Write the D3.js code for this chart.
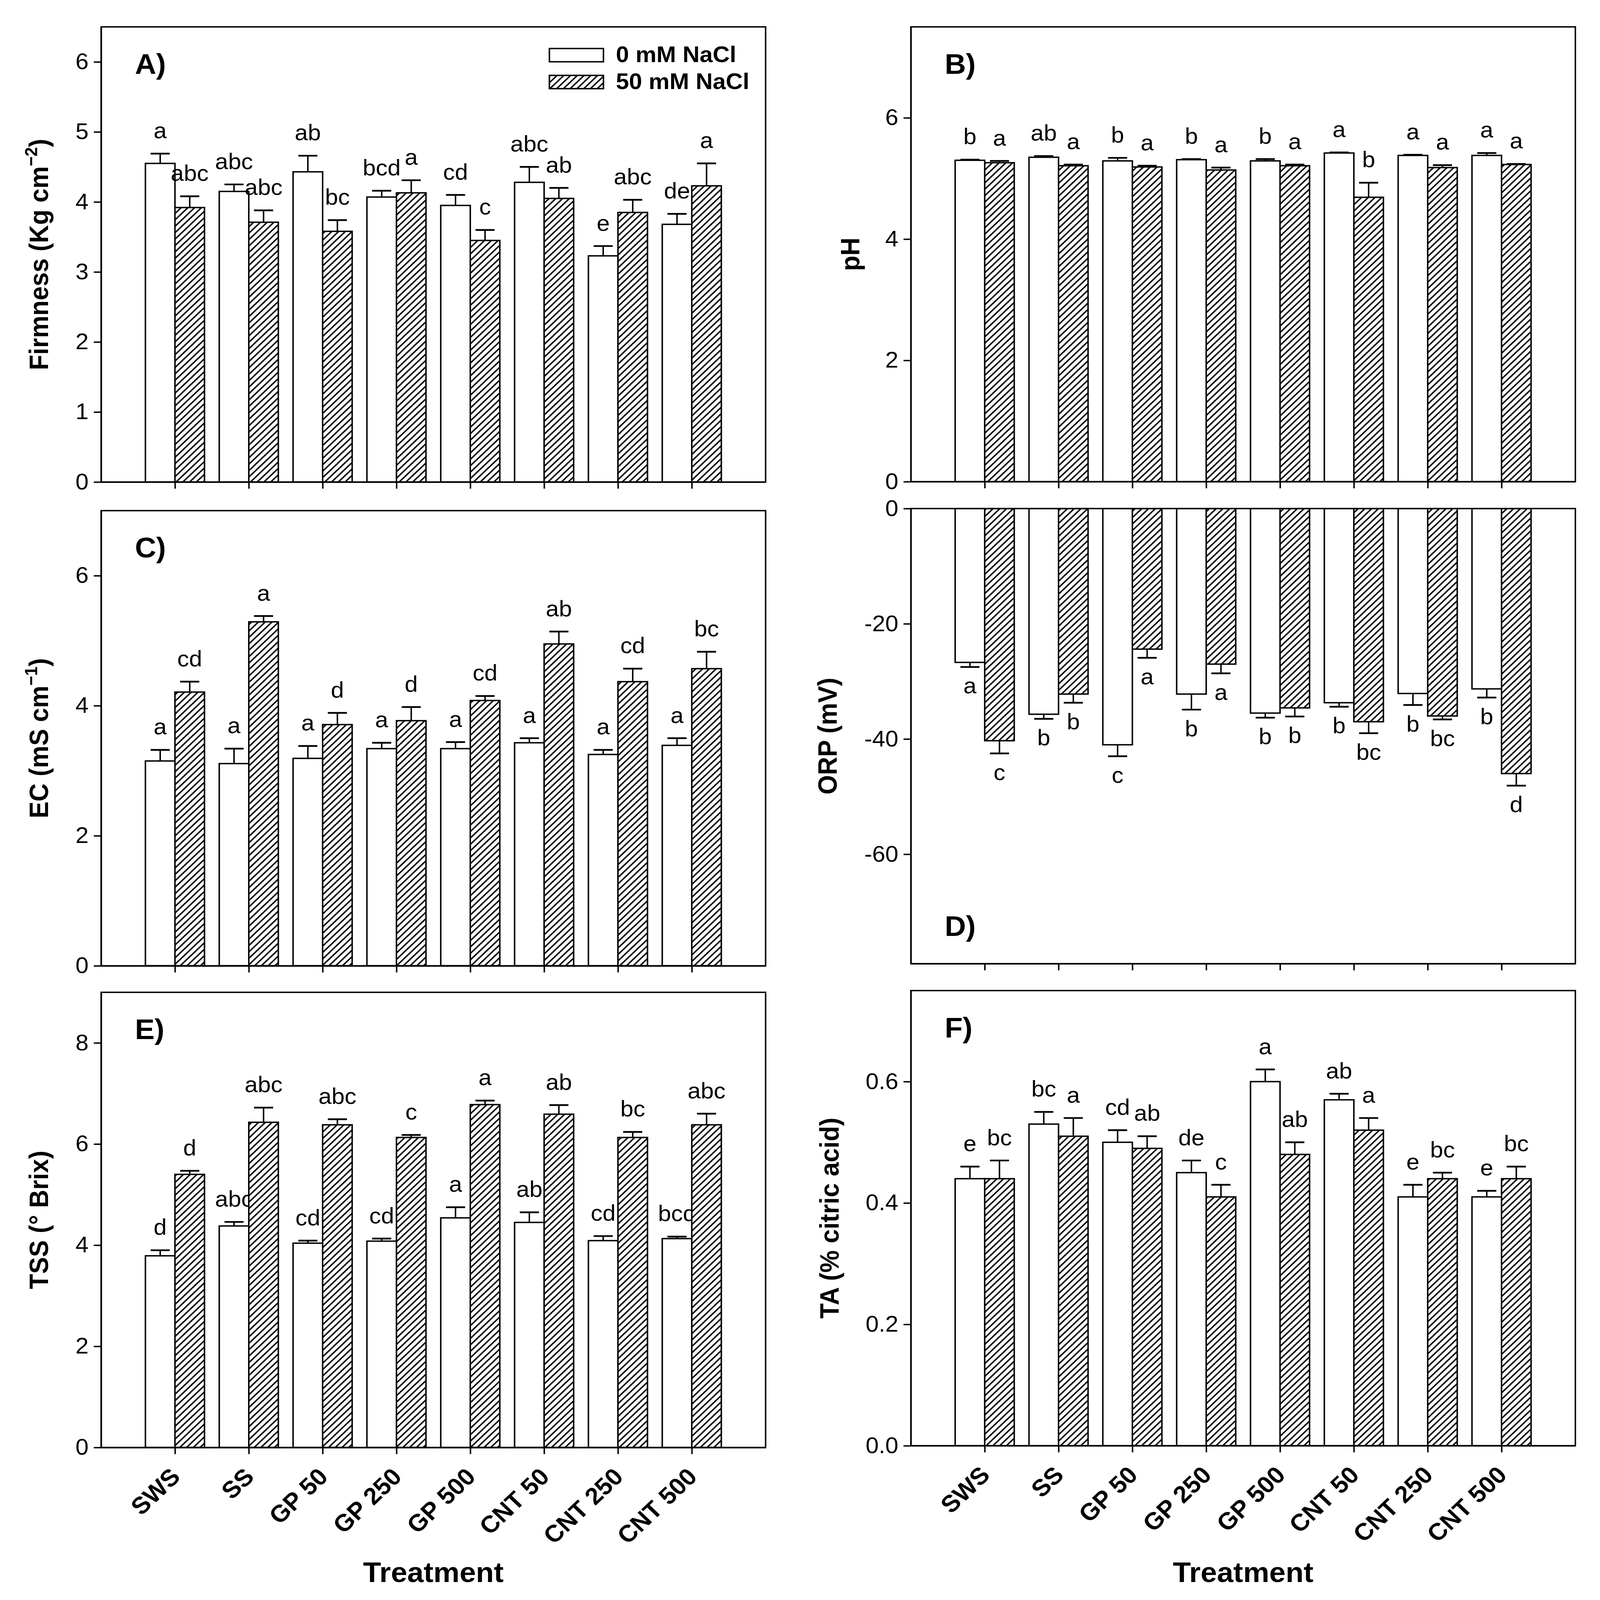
<!DOCTYPE html>
<html>
<head>
<meta charset="utf-8">
<title>Fruit quality</title>
<script src="https://d3js.org/d3.v7.min.js"></script>
<style>
  html, body { margin: 0; padding: 0; background: #fff; overflow: hidden; }
  #chart svg { display: block; width: 100vw; height: 100vh; }
  svg text { font-family: "Liberation Sans", Arial, sans-serif; fill: #000; }
</style>
</head>
<body>
<div id="chart"></div>
<script>
// ---- data ----
var treatments = ["SWS", "SS", "GP 50", "GP 250", "GP 500", "CNT 50", "CNT 250", "CNT 500"];
var seriesNames = ["0 mM NaCl", "50 mM NaCl"];

var firm0 = [4.55, 4.15, 4.43, 4.07, 3.95, 4.28, 3.23, 3.68];
var firm0Err = [0.14, 0.10, 0.23, 0.09, 0.15, 0.22, 0.14, 0.15];
var firm50 = [3.92, 3.71, 3.58, 4.13, 3.45, 4.05, 3.85, 4.23];
var firm50Err = [0.16, 0.17, 0.16, 0.18, 0.15, 0.15, 0.18, 0.32];
var firm0Let = ["a", "abc", "ab", "bcd", "cd", "abc", "e", "de"];
var firm50Let = ["abc", "abc", "bc", "a", "c", "ab", "abc", "a"];

var ph0 = [5.30, 5.35, 5.29, 5.31, 5.29, 5.42, 5.38, 5.38];
var ph0Err = [0.01, 0.02, 0.05, 0.01, 0.03, 0.01, 0.01, 0.04];
var ph50 = [5.26, 5.21, 5.19, 5.14, 5.21, 4.69, 5.18, 5.23];
var ph50Err = [0.03, 0.02, 0.02, 0.04, 0.02, 0.24, 0.04, 0.01];
var ph0Let = ["b", "ab", "b", "b", "b", "a", "a", "a"];
var ph50Let = ["a", "a", "a", "a", "a", "b", "a", "a"];

var ec0 = [3.15, 3.11, 3.19, 3.34, 3.34, 3.43, 3.25, 3.39];
var ec0Err = [0.17, 0.23, 0.19, 0.09, 0.10, 0.07, 0.07, 0.11];
var ec50 = [4.21, 5.29, 3.71, 3.77, 4.08, 4.95, 4.37, 4.57];
var ec50Err = [0.16, 0.09, 0.18, 0.21, 0.07, 0.19, 0.20, 0.26];
var ec0Let = ["a", "a", "a", "a", "a", "a", "a", "a"];
var ec50Let = ["cd", "a", "d", "d", "cd", "ab", "cd", "bc"];

var orp0 = [-26.7, -35.7, -41.0, -32.2, -35.5, -33.7, -32.1, -31.3];
var orp0Err = [0.8, 0.8, 2.0, 2.7, 0.8, 0.7, 2.0, 1.5];
var orp50 = [-40.3, -32.2, -24.4, -27.0, -34.6, -37.0, -36.0, -46.0];
var orp50Err = [2.2, 1.5, 1.5, 1.6, 1.5, 2.0, 0.6, 2.1];
var orp0Let = ["a", "b", "c", "b", "b", "b", "b", "b"];
var orp50Let = ["c", "b", "a", "a", "b", "bc", "bc", "d"];

var tss0 = [3.79, 4.38, 4.04, 4.08, 4.54, 4.45, 4.09, 4.13];
var tss0Err = [0.11, 0.08, 0.05, 0.05, 0.21, 0.20, 0.09, 0.04];
var tss50 = [5.40, 6.43, 6.38, 6.13, 6.78, 6.59, 6.13, 6.38];
var tss50Err = [0.07, 0.29, 0.11, 0.05, 0.08, 0.18, 0.11, 0.22];
var tss0Let = ["d", "abc", "cd", "cd", "a", "ab", "cd", "bcd"];
var tss50Let = ["d", "abc", "abc", "c", "a", "ab", "bc", "abc"];

var ta0 = [0.44, 0.53, 0.50, 0.45, 0.60, 0.57, 0.41, 0.41];
var ta0Err = [0.02, 0.02, 0.02, 0.02, 0.02, 0.01, 0.02, 0.01];
var ta50 = [0.44, 0.51, 0.49, 0.41, 0.48, 0.52, 0.44, 0.44];
var ta50Err = [0.03, 0.03, 0.02, 0.02, 0.02, 0.02, 0.01, 0.02];
var ta0Let = ["e", "bc", "cd", "de", "a", "ab", "e", "e"];
var ta50Let = ["bc", "a", "ab", "c", "ab", "a", "bc", "bc"];

// ---- layout (in the 4351 x 4584 picture's own units) ----
var W = 4351, H = 4584;
var LX = [275, 2082], RX = [2477, 4284];

var panels = [
  { tag: "A)", x: LX, y: [77, 1381], domain: [0, 6.5], ticks: [0, 1, 2, 3, 4, 5, 6], fmt: d3.format("d"),
    vals: [firm0, firm50], errs: [firm0Err, firm50Err], lets: [firm0Let, firm50Let],
    title: ["Firmness (Kg cm", "\u22122", ")"], titleX: 131, tagPos: "top", legend: true },
  { tag: "B)", x: RX, y: [77, 1380], domain: [0, 7.5], ticks: [0, 2, 4, 6], fmt: d3.format("d"),
    vals: [ph0, ph50], errs: [ph0Err, ph50Err], lets: [ph0Let, ph50Let],
    title: ["pH"], titleX: 2337, tagPos: "top" },
  { tag: "C)", x: LX, y: [1463, 2767], domain: [0, 7], ticks: [0, 2, 4, 6], fmt: d3.format("d"),
    vals: [ec0, ec50], errs: [ec0Err, ec50Err], lets: [ec0Let, ec50Let],
    title: ["EC (mS cm", "\u22121", ")"], titleX: 131, tagPos: "top" },
  { tag: "D)", x: RX, y: [1457, 2761], domain: [-79, 0], ticks: [-60, -40, -20, 0], fmt: function (d) { return d === 0 ? "0" : "-" + Math.abs(d); },
    vals: [orp0, orp50], errs: [orp0Err, orp50Err], lets: [orp0Let, orp50Let],
    title: ["ORP (mV)"], titleX: 2275, tagPos: "bottom" },
  { tag: "E)", x: LX, y: [2843, 4147], domain: [0, 9], ticks: [0, 2, 4, 6, 8], fmt: d3.format("d"),
    vals: [tss0, tss50], errs: [tss0Err, tss50Err], lets: [tss0Let, tss50Let],
    title: ["TSS (\u00b0 Brix)"], titleX: 131, tagPos: "top", cats: true },
  { tag: "F)", x: RX, y: [2838, 4142], domain: [0, 0.75], ticks: [0, 0.2, 0.4, 0.6], fmt: d3.format(".1f"),
    vals: [ta0, ta50], errs: [ta0Err, ta50Err], lets: [ta0Let, ta50Let],
    title: ["TA (% citric acid)"], titleX: 2281, tagPos: "top", cats: true }
];

var svg = d3.select("#chart").append("svg")
  .attr("viewBox", "0 0 " + W + " " + H)
  .attr("preserveAspectRatio", "none");

svg.append("rect").attr("width", W).attr("height", H).attr("fill", "#fff");

var defs = svg.append("defs");
var pat = defs.append("pattern")
  .attr("id", "hatch")
  .attr("patternUnits", "userSpaceOnUse")
  .attr("width", 13).attr("height", 13)
  .attr("patternTransform", "rotate(45)");
pat.append("rect").attr("width", 13).attr("height", 13).attr("fill", "#fff");
pat.append("line").attr("x1", 2).attr("y1", 0).attr("x2", 2).attr("y2", 13)
  .attr("stroke", "#000").attr("stroke-width", 4);

panels.forEach(function (p) {
  var g = svg.append("g");
  var x = d3.scaleLinear().domain([0, 9]).range(p.x);
  var y = d3.scaleLinear().domain(p.domain).range([p.y[1], p.y[0]]);
  var half = 0.4;

  [0, 1].forEach(function (s) {
    var off = s === 0 ? -half : 0;
    var data = p.vals[s].map(function (v, i) {
      return { i: i, v: v, e: p.errs[s][i], l: p.lets[s][i] };
    });
    var grp = g.append("g");

    grp.selectAll("rect.bar").data(data).enter().append("rect")
      .attr("class", "bar")
      .attr("x", function (d) { return x(d.i + 1 + off); })
      .attr("width", function (d) { return x(d.i + 1 + off + half) - x(d.i + 1 + off); })
      .attr("y", function (d) { return Math.min(y(0), y(d.v)); })
      .attr("height", function (d) { return Math.abs(y(d.v) - y(0)); })
      .attr("fill", s === 0 ? "#fff" : "url(#hatch)")
      .attr("stroke", "#000").attr("stroke-width", 4);

    function cx(d) { return x(d.i + 1 + off + half / 2); }
    function tip(d) { return y(d.v < 0 ? d.v - d.e : d.v + d.e); }

    grp.selectAll("line.err").data(data).enter().append("line")
      .attr("x1", cx).attr("x2", cx)
      .attr("y1", function (d) { return y(d.v); })
      .attr("y2", tip)
      .attr("stroke", "#000").attr("stroke-width", 4);
    grp.selectAll("line.cap").data(data).enter().append("line")
      .attr("x1", function (d) { return cx(d) - 26; })
      .attr("x2", function (d) { return cx(d) + 26; })
      .attr("y1", tip).attr("y2", tip)
      .attr("stroke", "#000").attr("stroke-width", 5);

    grp.selectAll("text.let").data(data).enter().append("text")
      .attr("x", cx)
      .attr("y", function (d) { return d.v < 0 ? tip(d) + 76 : tip(d) - 44; })
      .attr("text-anchor", "middle")
      .attr("font-size", 64)
      .text(function (d) { return d.l; });
  });

  // frame
  g.append("rect")
    .attr("x", p.x[0]).attr("y", p.y[0])
    .attr("width", p.x[1] - p.x[0]).attr("height", p.y[1] - p.y[0])
    .attr("fill", "none").attr("stroke", "#000").attr("stroke-width", 4);

  // axes
  var ya = g.append("g").attr("transform", "translate(" + p.x[0] + ",0)")
    .call(d3.axisLeft(y).tickValues(p.ticks).tickFormat(p.fmt).tickSize(20).tickSizeOuter(0).tickPadding(14));
  var xa = g.append("g").attr("transform", "translate(0," + p.y[1] + ")")
    .call(d3.axisBottom(x).tickValues(d3.range(1, 9)).tickFormat("").tickSize(19).tickSizeOuter(0));
  [ya, xa].forEach(function (a) {
    a.select(".domain").attr("stroke-width", 4);
    a.selectAll(".tick line").attr("stroke-width", 4);
    a.selectAll(".tick text").attr("font-size", 64).attr("font-family", "Liberation Sans, Arial, sans-serif").attr("fill", "#000");
  });

  // y title
  var cy = (p.y[0] + p.y[1]) / 2;
  var t = g.append("text")
    .attr("transform", "translate(" + p.titleX + "," + cy + ") rotate(-90)")
    .attr("text-anchor", "middle")
    .attr("font-size", 72).attr("font-weight", "bold");
  t.append("tspan").text(p.title[0]);
  if (p.title.length > 1) {
    t.append("tspan").attr("dy", -30).attr("font-size", 48).text(p.title[1]);
    t.append("tspan").attr("dy", 30).text(p.title[2]);
  }

  // panel tag
  g.append("text")
    .attr("x", p.x[0] + 92)
    .attr("y", p.tagPos === "top" ? p.y[0] + 134 : p.y[1] - 80)
    .attr("font-size", 80).attr("font-weight", "bold")
    .text(p.tag);

  if (p.cats) {
    g.selectAll("text.cat").data(treatments).enter().append("text")
      .attr("transform", function (d, i) { return "translate(" + (x(i + 1) + 18) + "," + (p.y[1] + 88) + ") rotate(-45)"; })
      .attr("text-anchor", "end")
      .attr("font-size", 68).attr("font-weight", "bold")
      .text(function (d) { return d; });
    g.append("text")
      .attr("x", (p.x[0] + p.x[1]) / 2).attr("y", 4532)
      .attr("text-anchor", "middle")
      .attr("font-size", 80).attr("font-weight", "bold")
      .text("Treatment");
  }

  if (p.legend) {
    var lg = g.append("g");
    seriesNames.forEach(function (n, k) {
      lg.append("rect")
        .attr("x", 1494).attr("y", 139 + k * 77)
        .attr("width", 147).attr("height", 38)
        .attr("fill", k === 0 ? "#fff" : "url(#hatch)")
        .attr("stroke", "#000").attr("stroke-width", 4);
      lg.append("text")
        .attr("x", 1675).attr("y", 178 + k * 77)
        .attr("font-size", 64).attr("font-weight", "bold")
        .text(n);
    });
  }
});
</script>
</body>
</html>
